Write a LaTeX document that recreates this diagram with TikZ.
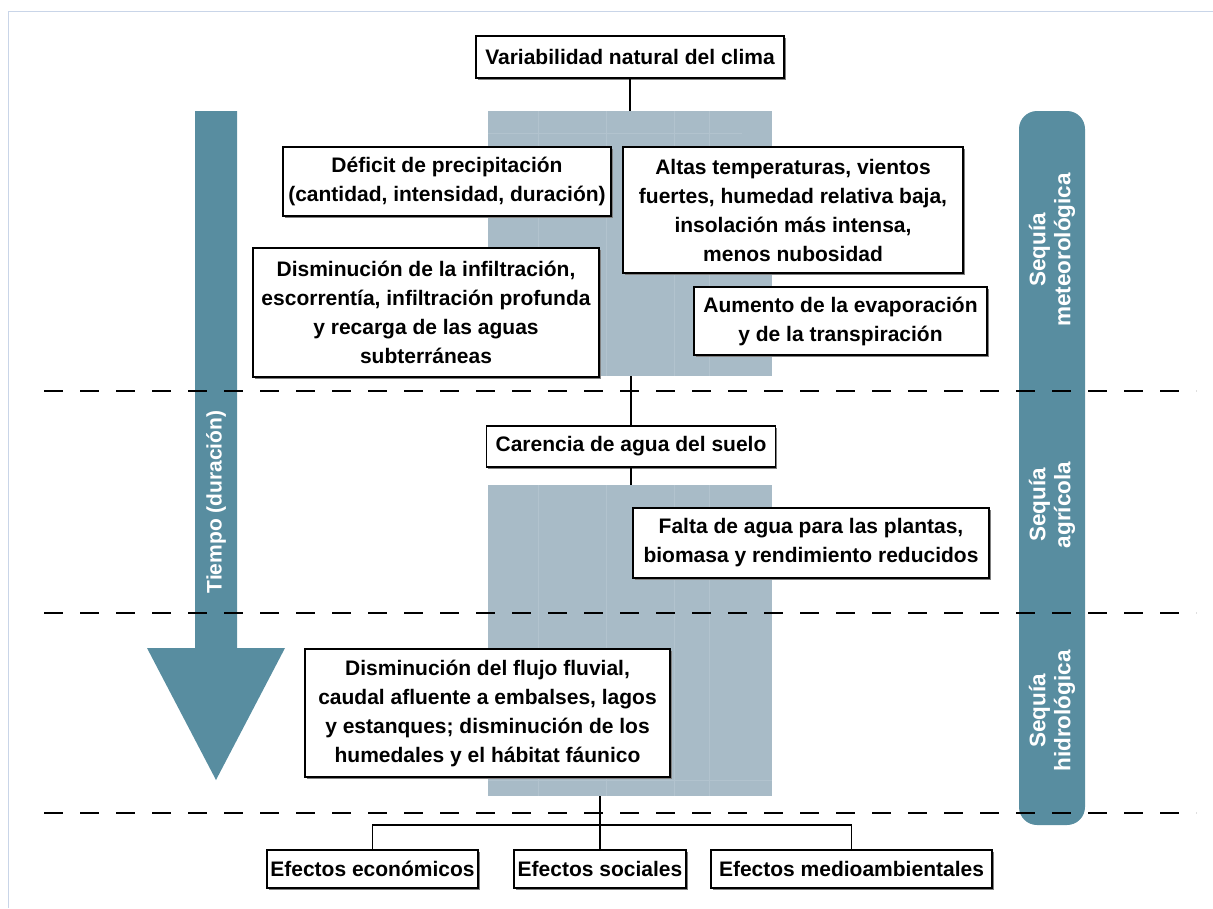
\documentclass[tikz,border=0pt]{standalone}
\usepackage{fontspec}
\setmainfont{Liberation Sans}
\definecolor{tealb}{HTML}{588DA0}
\definecolor{grayb}{HTML}{A8BBC7}
\definecolor{gridl}{HTML}{B2C3CE}
\definecolor{framec}{HTML}{C9D5E8}
\begin{document}
\begin{tikzpicture}[x=1pt,y=-1pt,
  box/.style={draw=black, line width=1.3pt, fill=white, align=center,
    font=\fontsize{21}{29}\selectfont\bfseries, inner sep=2pt, outer sep=0pt,
    preaction={fill=black!50, transform canvas={shift={(1.6pt,-1.6pt)}}}},
  panel/.style={fill=grayb, draw=none, inner sep=0pt, outer sep=0pt, minimum width=284pt},
  conn/.style={draw=black, line width=1.3pt},
  sep/.style={draw=black, line width=1.6pt, dash pattern=on 19pt off 17pt},
  vlabel/.style={text=white, font=\fontsize{21}{25}\selectfont\bfseries, align=center, rotate=90, inner sep=0pt},
  blabel/.style={vlabel, font=\fontsize{22.5}{25}\selectfont\bfseries},
  gridline/.style={draw=gridl, line width=0.8pt}]
\useasboundingbox (0,0) rectangle (1213,908);
% frame
\draw[framec, line width=1pt] (8,908) -- (8,11) -- (1213,11);
% shaded panels
\node[panel, minimum height=265pt] (up) at (630,243.5) {};
\node[panel, minimum height=311pt] (low) at (630,640.5) {};
\foreach \gx in {538,606,674,709} {
  \draw[gridline] (\gx,111) -- (\gx,376);
  \draw[gridline] (\gx,485) -- (\gx,796);
}
\draw[gridline] (488,133) -- (742,133);
\draw[gridline] (488,780) -- (772,780);
% time arrow
\fill[tealb] (195,111) -- (237,111) -- (237,648) -- (285,648) -- (216,780) -- (147,648) -- (195,648) -- cycle;
\node[vlabel] (tiempo) at (216,502) {Tiempo (duración)};
% right bar
\node[fill=tealb, rounded corners=18pt, minimum width=66pt, minimum height=714pt, inner sep=0pt] (bar) at (1052,468) {};
\node[blabel] (met) at (1052,250) {Sequía\\meteorológica};
\node[blabel] (agr) at (1052,505) {Sequía\\agrícola};
\node[blabel] (hid) at (1052,711) {Sequía\\hidrológica};
% dashed separators
\coordinate (s1a) at (44,391); \coordinate (s1b) at (1196,391);
\coordinate (s2a) at (44,613); \coordinate (s2b) at (1196,613);
\coordinate (s3a) at (44,813); \coordinate (s3b) at (1196,813);
\draw[sep] (s1a) -- (s1b);
\draw[sep] (s2a) -- (s2b);
\draw[sep] (s3a) -- (s3b);
% boxes
\node[box, minimum width=308pt, minimum height=42pt] (top) at (630,57) {Variabilidad natural del clima};
\node[box, minimum width=328pt, minimum height=69pt] (def) at (447,181.5) {Déficit de precipitación\\(cantidad, intensidad, duración)};
\node[box, minimum width=340pt, minimum height=126pt] (alt) at (793,210) {Altas temperaturas, vientos\\fuertes, humedad relativa baja,\\insolación más intensa,\\menos nubosidad};
\node[box, minimum width=346pt, minimum height=129pt] (inf) at (426,312.5) {Disminución de la infiltración,\\escorrentía, infiltración profunda\\y recarga de las aguas\\subterráneas};
\node[box, minimum width=293pt, minimum height=68pt] (aum) at (840.5,321) {Aumento de la evaporación\\y de la transpiración};
\node[box, minimum width=289pt, minimum height=41pt] (car) at (631,446.5) {Carencia de agua del suelo};
\node[box, minimum width=356pt, minimum height=70pt] (fal) at (811,543) {Falta de agua para las plantas,\\biomasa y rendimiento reducidos};
\node[box, minimum width=365pt, minimum height=128pt] (flu) at (487.5,713) {Disminución del flujo fluvial,\\caudal afluente a embalses, lagos\\y estanques; disminución de los\\humedales y el hábitat fáunico};
\node[box, minimum width=211pt, minimum height=38pt] (eco) at (372.5,869) {Efectos económicos};
\node[box, minimum width=172pt, minimum height=38pt] (soc) at (600,869) {Efectos sociales};
\node[box, minimum width=281pt, minimum height=38pt] (med) at (851.5,869) {Efectos medioambientales};
% connectors
\draw[conn] (top.south) -- (up.north);
\draw[conn] (car.north |- up.south) -- (car.north);
\draw[conn] (car.south) -- (car.south |- low.north);
\draw[conn] (soc.north |- low.south) -- (soc.north);
\coordinate (br) at (600,825);
\draw[conn] (eco.north) |- (br) -| (med.north);
\end{tikzpicture}
\end{document}
